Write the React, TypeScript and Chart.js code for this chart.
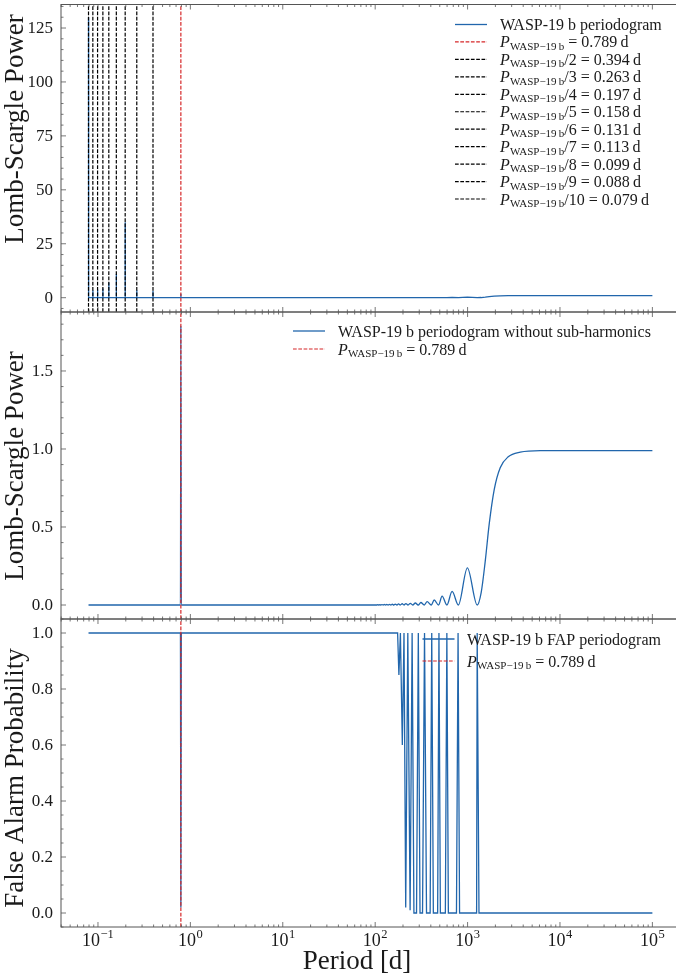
import React, { useEffect, useRef } from "react";
import { Chart, registerables } from "chart.js";

Chart.register(...registerables);

// ------------------------------------------------------------------ data
const harmonicDivisors = [1, 2, 3, 4, 5, 6, 7, 8, 9, 10];
const harmonicPeriods = [0.789, 0.394, 0.263, 0.197, 0.158, 0.131, 0.113, 0.099, 0.088, 0.079];
const harmonicPeriodLabels = ["0.789", "0.394", "0.263", "0.197", "0.158", "0.131", "0.113", "0.099", "0.088", "0.079"];

// full periodogram: short-period part with the harmonic spikes
const fullHeadPeriods = [
  0.079, 0.0792,
  0.0877, 0.088, 0.0883,
  0.0987, 0.099, 0.0993,
  0.1127, 0.113, 0.1133,
  0.1307, 0.131, 0.1313,
  0.1576, 0.158, 0.1584,
  0.1966, 0.197, 0.1974,
  0.2624, 0.263, 0.2636,
  0.3932, 0.394, 0.3948,
  0.787, 0.789, 0.791,
];
const fullHeadPower = [
  130, 0,
  0, 3.5, 0,
  0, 3.8, 0,
  0, 4.3, 0,
  0, 7, 0,
  0, 11, 0,
  0, 35, 0,
  0, 3.5, 0,
  0, 3.2, 0,
  0, 1.8, 0,
];

// periodogram without sub-harmonics: short-period part
const cleanHeadPeriods = [0.079, 0.781, 0.789, 0.797];
const cleanHeadPower = [0, 0, 1.79, 0];

// long-period part (shared by both periodograms)
const tailPeriods = [
  100, 104, 106.7, 109.5, 112.4, 115.5, 118.5, 122, 125.5, 129.5, 133.5, 138, 143, 148, 153, 159,
  165, 172, 179, 187, 196, 205, 215, 227, 240, 255, 272, 292, 312, 340, 365, 405, 435, 485, 530,
  597, 680, 795, 995, 1270, 1403, 1552, 1715, 1942, 2255, 2754, 3716, 6120, 100000,
];
const tailPower = [
  0, 0, 0.002, 0, 0.0025, 0, 0.003, 0, 0.0035, 0, 0.004, 0, 0.0045, 0, 0.005, 0,
  0.006, 0, 0.007, 0, 0.008, 0, 0.009, 0, 0.011, 0, 0.013, 0, 0.016, 0, 0.022, 0, 0.032, 0, 0.057,
  0, 0.087, 0, 0.238, 0, 0.08, 0.28, 0.52, 0.74, 0.88, 0.95, 0.98, 0.99, 0.99,
];

// false alarm probability
const fapPeriods = [
  0.079, 0.781, 0.789, 0.797,
  174.9, 180.6, 187.5, 196.7, 205.1, 214.0, 225.5, 238.8, 251.1,
  262.6, 280.2, 293.0, 305.7, 325.4, 342.0, 359.5, 393.4, 409.4, 426.1, 474.3, 490.0,
  507.4, 574.8, 596.7, 619.4, 758.1, 789.0, 819.0, 1252, 1270.6, 1289.7, 1328.9, 100000,
];
const fapValues = [
  1, 1, 0.02, 1,
  1, 0.85, 1, 0.6, 1, 0.02, 1, 0.01, 1,
  0, 0, 1, 0, 0, 1, 0, 0, 1, 0, 0, 1,
  0, 0, 1, 0, 0, 1, 0, 0, 1, 1, 0, 0,
];

// ticks
const panel1YTicks = [0, 25, 50, 75, 100, 125];
const panel1YTickLabels = ["0", "25", "50", "75", "100", "125"];
const panel2YTicks = [0, 0.5, 1.0, 1.5];
const panel2YTickLabels = ["0.0", "0.5", "1.0", "1.5"];
const panel3YTicks = [0, 0.2, 0.4, 0.6, 0.8, 1.0];
const panel3YTickLabels = ["0.0", "0.2", "0.4", "0.6", "0.8", "1.0"];
const xTickExponents = [-1, 0, 1, 2, 3, 4, 5];

// ------------------------------------------------------------------ style
const FONT = "'Liberation Serif', 'Times New Roman', serif";
const AXIS = "#555555";
const TEXT = "#1a1a1a";
const BLUE = "#2166ac";
const RED = "#d62728";
const BLACK = "#000000";
const DASH = [3.7, 1.6];

const CANVAS_W = 690;
const CANVAS_H = 978;
const PLOT_LEFT = 61;
const PLOT_RIGHT = 680.6;
const X_MIN = 0.0398;
const X_MAX = 2.02e5;

type Seg = { t: string; s: "rm" | "it" | "sub" };
type LegendRow = { color: string; dashed: boolean; segs: Seg[] };
type LegendCfg = { rows: LegendRow[]; y0: number; dy: number; hx0: number; hx1: number; tx: number };
type PanelCfg = {
  top: number;
  bottom: number;
  yMin: number;
  yMax: number;
  yTicks: number[];
  yTickLabels: string[];
  yMinorStep: number;
  yTitle: string;
  yTitleCenter: number;
  showXLabels: boolean;
  legend: LegendCfg;
  datasets: any[];
};

const pts = (xs: number[], ys: number[]) => xs.map((x, i) => ({ x, y: ys[i] }));

const pSub = (rest: string): Seg[] => [
  { t: "P", s: "it" },
  { t: "WASP\u221219\u2009b", s: "sub" },
  { t: rest, s: "rm" },
];

const vLine = (p: number, yMin: number, yMax: number, color: string) => ({
  data: [
    { x: p, y: yMin },
    { x: p, y: yMax },
  ],
  borderColor: color,
  borderWidth: 1.2,
  borderDash: DASH,
  pointRadius: 0,
  fill: false,
  tension: 0,
  order: 1,
});

const P1 = { top: 4.5, bottom: 312, yMin: -6.63, yMax: 135.9 };
const P2 = { top: 312, bottom: 619, yMin: -0.0897, yMax: 1.878 };
const P3 = { top: 619, bottom: 927, yMin: -0.05, yMax: 1.05 };

const panelCfgs: PanelCfg[] = [
  {
    ...P1,
    yTicks: panel1YTicks,
    yTickLabels: panel1YTickLabels,
    yMinorStep: 5,
    yTitle: "Lomb-Scargle Power",
    yTitleCenter: 129,
    showXLabels: false,
    legend: {
      rows: [
        { color: BLUE, dashed: false, segs: [{ t: "WASP-19 b periodogram", s: "rm" }] },
        ...harmonicDivisors.map((n, i) => ({
          color: n === 1 ? RED : BLACK,
          dashed: true,
          segs: pSub((n === 1 ? "" : "/" + n) + " = " + harmonicPeriodLabels[i] + "\u2009d"),
        })),
      ],
      y0: 24.5,
      dy: 17.45,
      hx0: 455,
      hx1: 487,
      tx: 500,
    },
    datasets: [
      {
        data: pts([...fullHeadPeriods, ...tailPeriods], [...fullHeadPower, ...tailPower]),
        borderColor: BLUE,
        borderWidth: 1.3,
        pointRadius: 0,
        fill: false,
        tension: 0,
        order: 2,
      },
      ...harmonicPeriods.map((p, i) => vLine(p, P1.yMin, P1.yMax, i === 0 ? RED : BLACK)),
    ],
  },
  {
    ...P2,
    yTicks: panel2YTicks,
    yTickLabels: panel2YTickLabels,
    yMinorStep: 0.1,
    yTitle: "Lomb-Scargle Power",
    yTitleCenter: 466,
    showXLabels: false,
    legend: {
      rows: [
        { color: BLUE, dashed: false, segs: [{ t: "WASP-19 b periodogram without sub-harmonics", s: "rm" }] },
        { color: RED, dashed: true, segs: pSub(" = " + harmonicPeriodLabels[0] + "\u2009d") },
      ],
      y0: 331,
      dy: 18,
      hx0: 293,
      hx1: 325,
      tx: 338,
    },
    datasets: [
      {
        data: pts([...cleanHeadPeriods, ...tailPeriods], [...cleanHeadPower, ...tailPower]),
        borderColor: BLUE,
        borderWidth: 1.3,
        pointRadius: 0,
        fill: false,
        cubicInterpolationMode: "monotone",
        order: 2,
      },
      vLine(harmonicPeriods[0], P2.yMin, P2.yMax, RED),
    ],
  },
  {
    ...P3,
    yTicks: panel3YTicks,
    yTickLabels: panel3YTickLabels,
    yMinorStep: 0.05,
    yTitle: "False Alarm Probability",
    yTitleCenter: 778,
    showXLabels: true,
    legend: {
      rows: [
        { color: BLUE, dashed: false, segs: [{ t: "WASP-19 b FAP periodogram", s: "rm" }] },
        { color: RED, dashed: true, segs: pSub(" = " + harmonicPeriodLabels[0] + "\u2009d") },
      ],
      y0: 639,
      dy: 22,
      hx0: 422.5,
      hx1: 454.5,
      tx: 467,
    },
    datasets: [
      {
        data: pts(fapPeriods, fapValues),
        borderColor: BLUE,
        borderWidth: 1.3,
        pointRadius: 0,
        fill: false,
        tension: 0,
        order: 2,
      },
      vLine(harmonicPeriods[0], P3.yMin, P3.yMax, RED),
    ],
  },
];

// ------------------------------------------------------------------ drawing helpers
function line(ctx: CanvasRenderingContext2D, x0: number, y0: number, x1: number, y1: number) {
  ctx.beginPath();
  ctx.moveTo(x0, y0);
  ctx.lineTo(x1, y1);
  ctx.stroke();
}

const LEG_SIZE = 16;
const SUB_SIZE = 11;

function drawSegs(ctx: CanvasRenderingContext2D, segs: Seg[], x: number, yMid: number) {
  const base = yMid + 5.5;
  ctx.textAlign = "left";
  ctx.textBaseline = "alphabetic";
  for (const sg of segs) {
    if (sg.s === "sub") {
      ctx.font = `${SUB_SIZE}px ${FONT}`;
      ctx.fillText(sg.t, x, base + 2.5);
      x += ctx.measureText(sg.t).width;
    } else {
      ctx.font = `${sg.s === "it" ? "italic " : ""}${LEG_SIZE}px ${FONT}`;
      ctx.fillText(sg.t, x, base);
      x += ctx.measureText(sg.t).width + (sg.s === "it" ? 0.3 : 0);
    }
  }
}

function makeDeco(cfg: PanelCfg) {
  return {
    id: "panelDeco",
    afterDraw(chart: any) {
      const ctx: CanvasRenderingContext2D = chart.ctx;
      const { left, right, top, bottom } = chart.chartArea;
      const xs = chart.scales.x;
      const ys = chart.scales.y;
      ctx.save();
      ctx.setLineDash([]);

      // spines
      ctx.strokeStyle = AXIS;
      ctx.lineWidth = 1;
      ctx.strokeRect(left, top, right - left, bottom - top);

      // x ticks (inward, top and bottom)
      ctx.lineWidth = 0.8;
      for (let k = -2; k <= 6; k++) {
        for (let m = 1; m <= 9; m++) {
          const v = m * Math.pow(10, k);
          if (v < X_MIN || v > X_MAX) continue;
          const px = xs.getPixelForValue(v);
          const len = m === 1 ? 5 : 2.5;
          line(ctx, px, bottom, px, bottom - len);
          line(ctx, px, top, px, top + len);
        }
      }
      // y ticks (inward, left)
      const step = cfg.yMinorStep;
      for (let i = Math.ceil(cfg.yMin / step - 1e-9); i * step <= cfg.yMax + 1e-9; i++) {
        const v = i * step;
        const isMajor = cfg.yTicks.some((t) => Math.abs(t - v) < 1e-6);
        const py = ys.getPixelForValue(v);
        const len = isMajor ? 5 : 2.5;
        line(ctx, left, py, left + len, py);
      }

      // y tick labels
      ctx.fillStyle = TEXT;
      ctx.font = `17px ${FONT}`;
      ctx.textAlign = "right";
      ctx.textBaseline = "middle";
      cfg.yTicks.forEach((t, i) => {
        ctx.fillText(cfg.yTickLabels[i], left - 8, ys.getPixelForValue(t) + 1);
      });

      // y title
      ctx.save();
      ctx.translate(16, cfg.yTitleCenter);
      ctx.rotate(-Math.PI / 2);
      ctx.font = `27px ${FONT}`;
      ctx.textAlign = "center";
      ctx.textBaseline = "middle";
      ctx.fillText(cfg.yTitle, 0, 0);
      ctx.restore();

      // x tick labels + title
      if (cfg.showXLabels) {
        xTickExponents.forEach((e) => {
          const px = xs.getPixelForValue(Math.pow(10, e));
          const sup = e < 0 ? "\u2212" + Math.abs(e) : String(e);
          ctx.font = `18px ${FONT}`;
          const w10 = ctx.measureText("10").width;
          ctx.font = `12.5px ${FONT}`;
          const ws = ctx.measureText(sup).width;
          const x0 = px - (w10 + ws + 0.5) / 2;
          ctx.textAlign = "left";
          ctx.textBaseline = "alphabetic";
          ctx.font = `18px ${FONT}`;
          ctx.fillText("10", x0, 946);
          ctx.font = `12.5px ${FONT}`;
          ctx.fillText(sup, x0 + w10 + 0.5, 938);
        });
        ctx.font = `27px ${FONT}`;
        ctx.textAlign = "center";
        ctx.textBaseline = "middle";
        ctx.fillText("Period [d]", 357, 962);
      }

      // legend
      const lg = cfg.legend;
      lg.rows.forEach((r, i) => {
        const y = lg.y0 + i * lg.dy;
        ctx.strokeStyle = r.color;
        ctx.lineWidth = r.dashed ? 1.2 : 1.3;
        ctx.setLineDash(r.dashed ? DASH : []);
        line(ctx, lg.hx0, y, lg.hx1, y);
        ctx.setLineDash([]);
        ctx.fillStyle = TEXT;
        drawSegs(ctx, r.segs, lg.tx, y);
      });

      ctx.restore();
    },
  };
}

// ------------------------------------------------------------------ components
function Panel({ cfg }: { cfg: PanelCfg }) {
  const ref = useRef<HTMLCanvasElement>(null);
  useEffect(() => {
    if (!ref.current) return;
    const chart = new Chart(ref.current, {
      type: "line",
      data: { datasets: cfg.datasets },
      options: {
        animation: false,
        responsive: false,
        events: [],
        layout: {
          padding: {
            left: PLOT_LEFT,
            right: CANVAS_W - PLOT_RIGHT,
            top: cfg.top,
            bottom: CANVAS_H - cfg.bottom,
          },
        },
        plugins: {
          legend: { display: false },
          tooltip: { enabled: false },
          title: { display: false },
        },
        scales: {
          x: { type: "logarithmic", min: X_MIN, max: X_MAX, display: false },
          y: { type: "linear", min: cfg.yMin, max: cfg.yMax, display: false },
        },
        elements: { point: { radius: 0 } },
      },
      plugins: [makeDeco(cfg)],
    } as any);
    return () => chart.destroy();
  }, [cfg]);
  return (
    <canvas
      ref={ref}
      width={CANVAS_W}
      height={CANVAS_H}
      style={{ position: "absolute", left: 0, top: 0, width: CANVAS_W, height: CANVAS_H }}
    />
  );
}

export default function App() {
  return (
    <div
      style={{
        position: "absolute",
        left: 0,
        top: 0,
        width: 676,
        height: 978,
        overflow: "hidden",
        background: "#ffffff",
      }}
    >
      {panelCfgs.map((cfg, i) => (
        <Panel key={i} cfg={cfg} />
      ))}
    </div>
  );
}
